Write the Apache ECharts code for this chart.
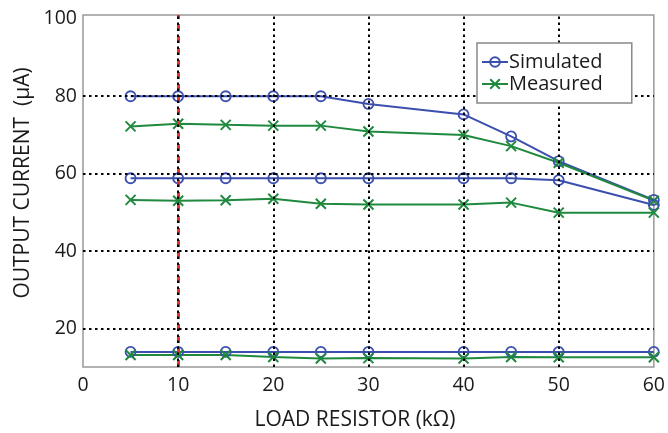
<!DOCTYPE html>
<html>
<head>
<meta charset="utf-8">
<script src="https://cdn.jsdelivr.net/npm/echarts@6/dist/echarts.min.js"></script>
<style>html,body{margin:0;padding:0;background:#fff}#c{width:668px;height:433px}</style>
</head>
<body>
<div id="c"></div>
<script>
var xValues = [5, 10, 15, 20, 25, 30, 40, 45, 50, 60];
var simHigh = [80, 80, 80, 80, 80, 78.0, 75.3, 69.6, 63.2, 53.2];
var measHigh = [72.2, 72.9, 72.6, 72.4, 72.4, 70.9, 70.0, 67.1, 62.8, 53.0];
var simMid = [58.8, 58.8, 58.8, 58.8, 58.8, 58.8, 58.8, 58.8, 58.3, 51.9];
var measMid = [53.2, 53.0, 53.1, 53.5, 52.2, 52.0, 52.0, 52.5, 49.9, 49.9];
var simLow = [13.9, 13.9, 13.9, 13.9, 13.9, 13.9, 13.9, 13.9, 13.9, 13.9];
var measLow = [13.1, 13.1, 13.1, 12.6, 12.2, 12.3, 12.2, 12.6, 12.5, 12.5];
var yLabels = [20, 40, 60, 80, 100];
var yGrid = [20, 40, 60, 80];
var xGrid = [10, 20, 30, 40, 50];
var markerX = 10;

var BLUE = '#3b4fae', GREEN = '#1f8a3e';
var FONT = 'Open Sans';
var xMark = 'path://M0,0L10,10M0,10L10,0';

function pair(a){ return xValues.map(function(x,i){ return [x, a[i]]; }); }
function simSeries(d){
  return {name:'Simulated', type:'line', data:pair(d), symbol:'circle', symbolSize:10,
    lineStyle:{color:BLUE, width:2}, itemStyle:{color:'rgba(0,0,0,0)', borderColor:BLUE, borderWidth:1.8},
    z:3};
}
function measSeries(d){
  return {name:'Measured', type:'line', data:pair(d), symbol:xMark, symbolSize:10,
    lineStyle:{color:GREEN, width:2}, itemStyle:{color:'rgba(0,0,0,0)', borderColor:GREEN, borderWidth:2},
    z:3};
}
var dotted = {color:'#000', width:2, type:[2.5,3.5]};
var series = [simSeries(simHigh), measSeries(measHigh), simSeries(simMid), measSeries(measMid), simSeries(simLow), measSeries(measLow)];
var gridData = [{xAxis:markerX, lineStyle:{color:'#e8322b', width:3, type:[7,5]}}];
xGrid.forEach(function(v){ gridData.push({xAxis:v, lineStyle:dotted}); });
yGrid.forEach(function(v){ gridData.push({yAxis:v, lineStyle:dotted}); });
series.push({
  name:'grid', type:'line', data:[], z:4,
  markLine:{silent:true, symbol:'none', label:{show:false}, animation:false, data:gridData}
});

var chart = echarts.init(document.getElementById('c'), null, {renderer:'canvas'});
chart.setOption({
  animation:false,
  backgroundColor:'#fff',
  grid:{left:83, right:13, top:15, bottom:66, show:true, borderColor:'#999', borderWidth:1.5, backgroundColor:'transparent'},
  legend:{
    data:['Simulated','Measured'], orient:'vertical', left:477, top:43, z:10,
    backgroundColor:'#fff', borderColor:'#888', borderWidth:1.5, padding:[9,29,9,4],
    itemWidth:26, itemHeight:12, itemGap:2,
    textStyle:{fontFamily:FONT, fontSize:20, color:'#1a1a1a', padding:[0,0,0,-4]}
  },
  xAxis:{type:'value', min:0, max:60, interval:10,
    axisLine:{show:false}, axisTick:{show:false},
    axisLabel:{fontFamily:FONT, fontSize:19.5, color:'#1a1a1a', margin:8},
    splitLine:{show:false}
  },
  yAxis:{type:'value', min:10, max:101,
    axisLine:{show:false},
    axisTick:{show:false, customValues:yGrid},
    axisLabel:{fontFamily:FONT, fontSize:19.5, color:'#1a1a1a', margin:6, customValues:yLabels},
    splitLine:{show:false}
  },
  graphic:[
    {type:'text', style:{text:'LOAD RESISTOR (kΩ)', fontFamily:FONT, fontSize:21, fill:'#1a1a1a', x:355, y:420, align:'center', verticalAlign:'middle'}},
    {type:'text', x:23, y:183, rotation:Math.PI/2, style:{text:'OUTPUT CURRENT  (μA)', fontFamily:FONT, fontSize:21, fill:'#1a1a1a', align:'center', verticalAlign:'middle'}}
  ],
  series:series
});
</script>
</body>
</html>
